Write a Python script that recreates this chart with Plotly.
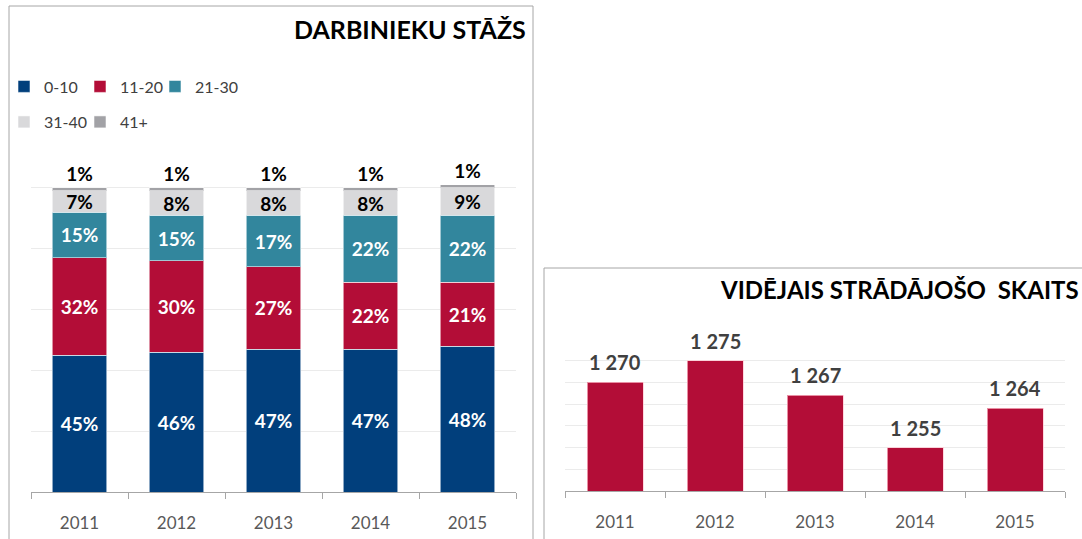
import plotly.graph_objects as go

# ---- data ----
years = ["2011", "2012", "2013", "2014", "2015"]
group_names = ["0-10", "11-20", "21-30", "31-40", "41+"]
share_0_10 = [45, 46, 47, 47, 48]
share_11_20 = [32, 30, 27, 22, 21]
share_21_30 = [15, 15, 17, 22, 22]
share_31_40 = [7, 8, 8, 8, 9]
share_41_plus = [1, 1, 1, 1, 1]
employees = [1270, 1275, 1267, 1255, 1264]

left_title = "DARBINIEKU STĀŽS"
right_title = "VIDĒJAIS STRĀDĀJOŠO\u00a0 SKAITS"

# ---- styling ----
W, H = 1082, 539
FONT = "Lato"
colors = ["#013F7C", "#B30D37", "#32869D", "#D9D9DB", "#A2A2A6"]
label_colors = ["white", "white", "white", "black", "black"]
positions = ["inside", "inside", "inside", "inside", "outside"]
legend_ids = ["legend", "legend2", "legend3", "legend4", "legend5"]
# legend anchor points (pixels): (x, y)
legend_pos = [(4, 86.5), (80, 86.5), (155, 86.5), (4, 122), (80, 122)]
series = [share_0_10, share_11_20, share_21_30, share_31_40, share_41_plus]


def px_x(x):
    return x / W


def px_y(y):
    return 1 - y / H


fig = go.Figure()

for name, vals, col, lcol, pos, leg in zip(group_names, series, colors,
                                           label_colors, positions, legend_ids):
    fig.add_trace(go.Bar(
        x=years, y=vals, name=name, legend=leg,
        marker=dict(color=col, line=dict(color="rgba(255,255,255,0.55)", width=1)),
        text=[f"{v}%" for v in vals],
        textposition=pos,
        insidetextanchor="middle",
        textangle=0,
        constraintext="none",
        cliponaxis=False,
        textfont=dict(family=FONT, size=19, color=lcol, weight="bold"),
        xaxis="x", yaxis="y",
        hoverinfo="skip",
    ))

fig.add_trace(go.Bar(
    x=years, y=employees, name="Vidējais strādājošo skaits",
    showlegend=False,
    marker=dict(color="#B30D37", line=dict(color="rgba(255,200,210,0.7)", width=1)),
    xaxis="x2", yaxis="y2",
    hoverinfo="skip",
))

annotations = []
for i, v in enumerate(employees):
    annotations.append(dict(
        x=i, y=v, xref="x2", yref="y2",
        text=f"{v:,}".replace(",", " "),
        showarrow=False, yanchor="bottom", yshift=6,
        font=dict(family=FONT, size=20, color="#404040", weight="bold"),
    ))

annotations.append(dict(
    x=px_x(528), y=px_y(29), xref="paper", yref="paper",
    xanchor="right", yanchor="middle", showarrow=False,
    text=left_title,
    font=dict(family=FONT, size=25, color="black", weight="bold"),
))
annotations.append(dict(
    x=px_x(1081), y=px_y(289), xref="paper", yref="paper",
    xanchor="right", yanchor="middle", showarrow=False,
    text=right_title,
    font=dict(family=FONT, size=24, color="black", weight="bold"),
))

border = dict(color="#A6A6A6", width=1)
shapes = [
    dict(type="rect", xref="paper", yref="paper",
         x0=px_x(9), x1=px_x(533), y0=px_y(560), y1=px_y(6),
         line=border, fillcolor="rgba(0,0,0,0)", layer="below"),
    dict(type="rect", xref="paper", yref="paper",
         x0=px_x(544), x1=px_x(1100), y0=px_y(560), y1=px_y(268),
         line=border, fillcolor="rgba(0,0,0,0)", layer="below"),
]

axis_common = dict(
    type="category", range=[-0.5, len(years) - 0.5], autorange=False,
    showline=True, linecolor="#A6A6A6", linewidth=1,
    ticks="outside", ticklen=6, tickcolor="#A6A6A6", tickson="boundaries",
    tickfont=dict(family=FONT, size=17, color="#595959"),
    ticklabelstandoff=16, tickangle=0, automargin=False,
    showgrid=False, zeroline=False, fixedrange=True,
)

legend_common = dict(
    orientation="h", xanchor="left", yanchor="middle",
    font=dict(family=FONT, size=16, color="#404040"),
    bgcolor="rgba(0,0,0,0)", itemwidth=30,
    itemclick=False, itemdoubleclick=False,
)

legend_layout = {}
for lid, (lx, ly) in zip(legend_ids, legend_pos):
    legend_layout[lid] = dict(x=px_x(lx), y=px_y(ly), **legend_common)

fig.update_layout(
    width=W, height=H,
    margin=dict(l=0, r=0, t=0, b=0, autoexpand=False),
    paper_bgcolor="white", plot_bgcolor="white",
    barmode="stack", bargap=0.44,
    font=dict(family=FONT),
    xaxis=dict(domain=[px_x(31), px_x(516)], anchor="y", **axis_common),
    yaxis=dict(domain=[px_y(492), px_y(127)], anchor="x", range=[0, 120],
               dtick=20, showticklabels=False, showgrid=True,
               gridcolor="#EBEBEB", gridwidth=1, zeroline=False,
               showline=False, fixedrange=True),
    xaxis2=dict(domain=[px_x(565), px_x(1065)], anchor="y2", **axis_common),
    yaxis2=dict(domain=[px_y(491), px_y(339)], anchor="x2", range=[1245, 1280],
                dtick=5, showticklabels=False, showgrid=True,
                gridcolor="#EBEBEB", gridwidth=1, zeroline=False,
                showline=False, fixedrange=True),
    annotations=annotations,
    shapes=shapes,
    showlegend=True,
    **legend_layout,
)

fig.write_html("out.html", config={"displayModeBar": False, "staticPlot": True},
               post_script="document.body.style.margin='0';")
